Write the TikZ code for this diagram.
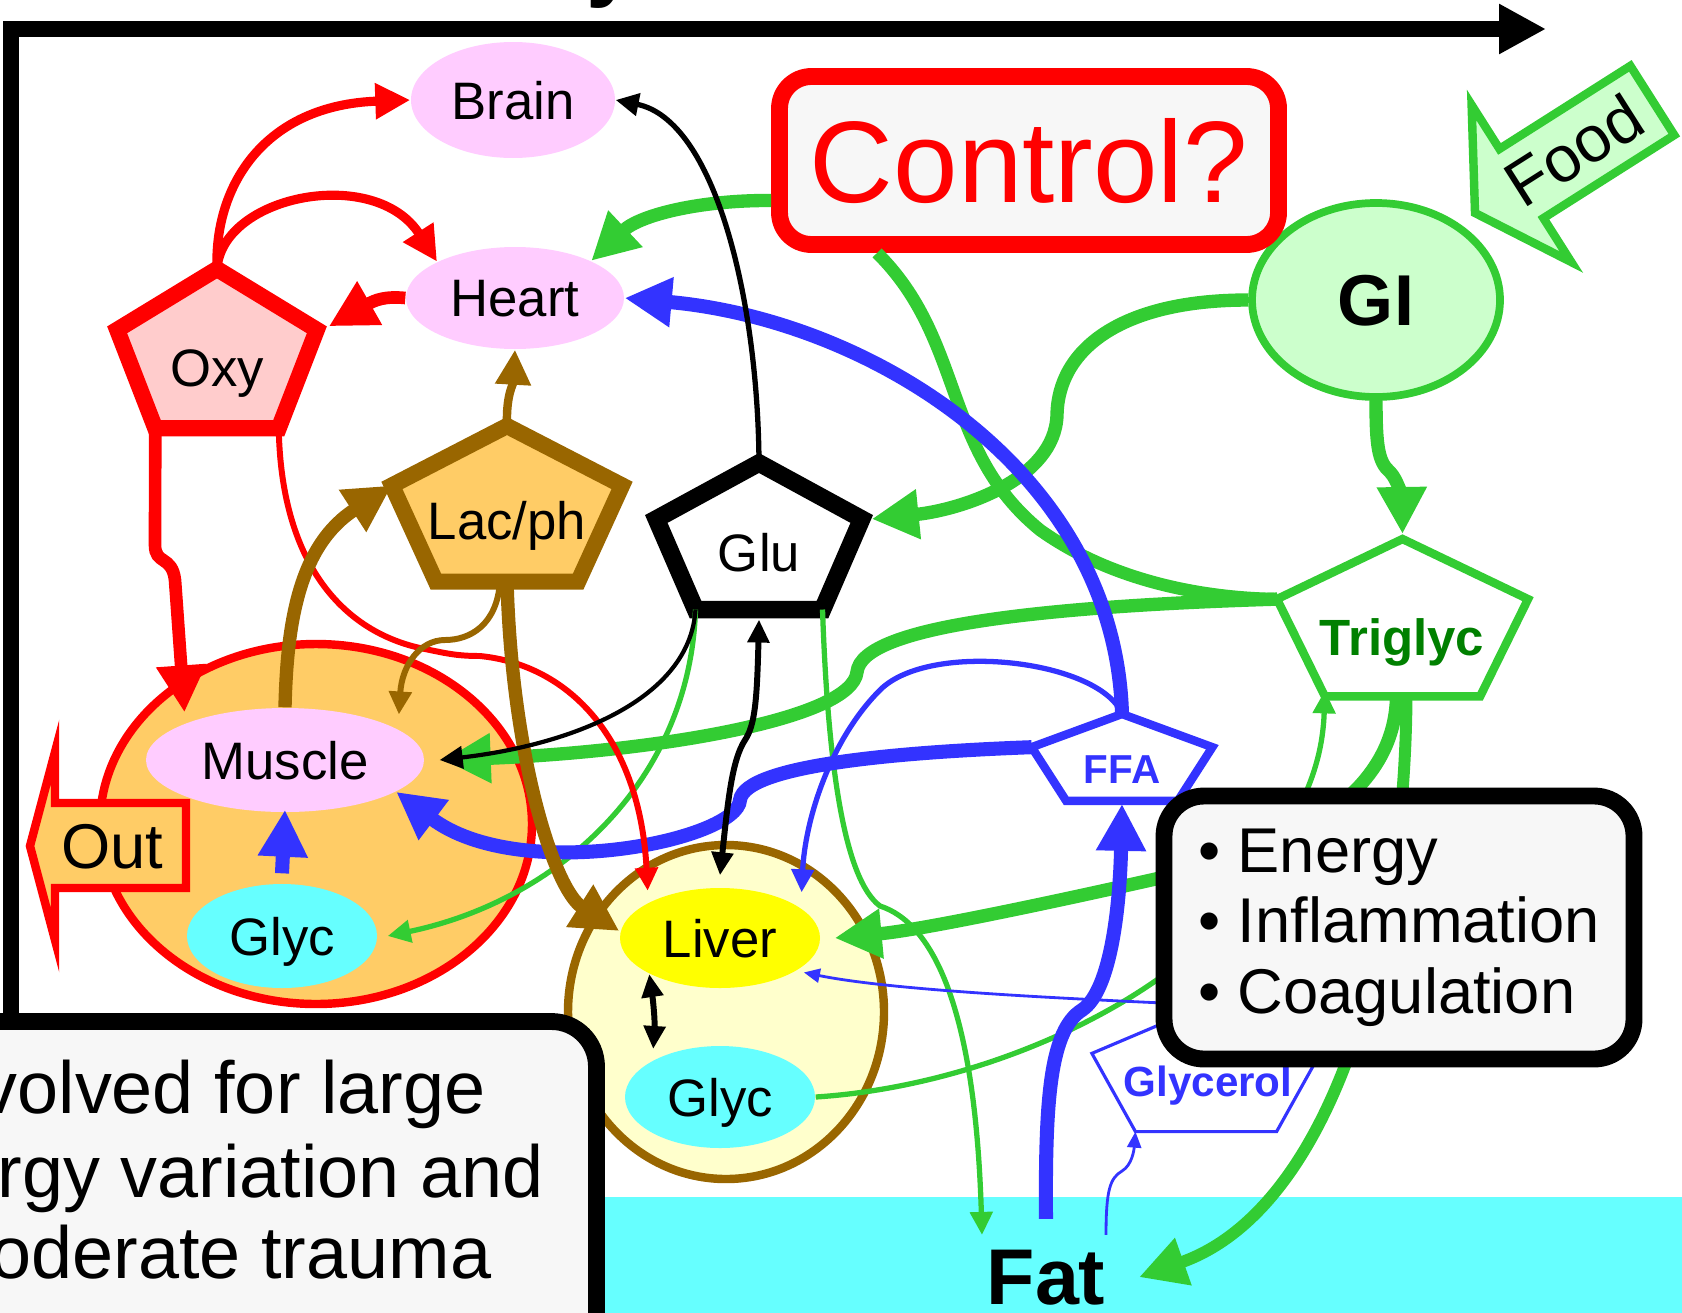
\documentclass[tikz,border=0pt]{standalone}
\usepackage{fontspec}
\setmainfont{Liberation Sans}
\usepackage{xcolor}
\usetikzlibrary{shapes.geometric, arrows.meta, calc}

\definecolor{oxyred}{HTML}{FF0000}
\definecolor{flowgreen}{HTML}{33CC33}
\definecolor{flowblue}{HTML}{3333FF}
\definecolor{lacbrown}{HTML}{996600}
\definecolor{organpink}{HTML}{FFCCFF}
\definecolor{oxypink}{HTML}{FFCCCC}
\definecolor{lacorange}{HTML}{FFCC66}
\definecolor{glycyan}{HTML}{66FFFF}
\definecolor{liverpale}{HTML}{FFFFCC}
\definecolor{liveryellow}{HTML}{FFFF00}
\definecolor{gigreen}{HTML}{CCFFCC}
\definecolor{boxgrey}{HTML}{F7F7F7}
\definecolor{trigreen}{HTML}{008000}

% pentagon: style, name, cx, cy, x-radius, y-radius (pixel units, y down)
\newcommand{\pentnode}[6]{%
  \draw[#1] (#3,{#4-#6}) coordinate (#2-n)
    -- ({#3-0.951*#5},{#4-0.309*#6}) coordinate (#2-w)
    -- ({#3-0.588*#5},{#4+0.809*#6}) coordinate (#2-sw)
    -- ({#3+0.588*#5},{#4+0.809*#6}) coordinate (#2-se)
    -- ({#3+0.951*#5},{#4-0.309*#6}) coordinate (#2-e)
    -- cycle;
  \coordinate (#2-s) at (#3,{#4+0.809*#6});}

\begin{document}
\begin{tikzpicture}[x=0.1mm, y=-0.1mm,
    organ/.style={ellipse, fill=organpink, inner sep=0pt, text depth=0pt, font=\fontsize{15}{18}\selectfont},
    glycpool/.style={organ, fill=glycyan},
    cellbody/.style={ellipse, line width=2.4pt, inner sep=0pt},
    pentlabel/.style={anchor=base, inner sep=0pt, font=\fontsize{15}{18}\selectfont},
    textbox/.style={rectangle, draw=black, line width=4.8pt, fill=boxgrey, rounded corners=4mm, inner sep=0pt},
    boxtext/.style={anchor=base west, inner sep=0pt, font=\fontsize{21}{24}\selectfont},
    bigarrow/.style={-{Triangle[length=4.7mm,width=4.7mm]}, line width=3.8pt},
    medarrow/.style={-{Triangle[length=3.5mm,width=3.4mm]}, line width=2.6pt},
    thinarrow/.style={-{Triangle[length=2.3mm,width=2.2mm]}, line width=1.5pt},
    thinboth/.style={{Triangle[length=2.3mm,width=2.1mm]}-{Triangle[length=2.3mm,width=2.1mm]}, line width=1.7pt},
    hairarrow/.style={-{Triangle[length=1.6mm,width=1.4mm]}, line width=0.8pt},
]
\useasboundingbox (0,0) rectangle (1682,1312);

% Fat layer and frame
\fill[glycyan] (0,1197) rectangle (1682,1330);
\node[anchor=base west, inner sep=0pt, font=\bfseries\fontsize{26}{30}\selectfont] (titley) at (586,-11) {y};
\draw[line width=4.8pt, -{Triangle[length=4.7mm,width=4.7mm]}] (11,1014) -- (11,29) -- (1546,29);

% Muscle and liver compartments
\node[cellbody, draw=oxyred, fill=lacorange, minimum width=43.2mm, minimum height=36mm] (muscleorg) at (316,824) {};
\node[cellbody, draw=lacbrown, fill=liverpale, minimum width=31.6mm, minimum height=33.4mm] (liverorg) at (726,1012) {};

% Organs
\node[organ, minimum width=20.4mm, minimum height=11.6mm] (brain) at (513,100) {Brain};
\node[organ, minimum width=21.8mm, minimum height=10.2mm] (heart) at (515,298) {Heart};
\node[organ, minimum width=27.8mm, minimum height=10.4mm] (muscle) at (285,760) {Muscle};
\node[glycpool, minimum width=19mm, minimum height=10.4mm] (mglyc) at (282,936) {Glyc};
\node[organ, fill=liveryellow, minimum width=20mm, minimum height=10mm] (liver) at (720,938) {Liver};
\node[glycpool, minimum width=19mm, minimum height=10.2mm] (lglyc) at (720,1097) {Glyc};
\node[ellipse, draw=flowgreen, line width=2.2pt, fill=gigreen, minimum width=24.8mm, minimum height=19.4mm, inner sep=0pt, text depth=0pt, font=\bfseries\fontsize{20.5}{24}\selectfont] (gi) at (1376,300) {GI};

% Control and Fat
\node[textbox, draw=oxyred, rounded corners=3.2mm, minimum width=49.9mm, minimum height=16.8mm, text=oxyred, text depth=0pt, font=\fontsize{33}{38}\selectfont] (control) at (1029,160.5) {Control?};
\node[anchor=base, inner sep=0pt, font=\bfseries\fontsize{22.5}{26}\selectfont] (fat) at (1046,1304) {Fat};

% Metabolite pools
\pentnode{draw=oxyred, fill=oxypink, line width=4.6pt}{oxy}{217}{357}{105}{88}
\pentnode{draw=lacbrown, fill=lacorange, line width=4.6pt}{lac}{507}{512}{121}{86}
\pentnode{draw=black, fill=white, line width=5pt}{glu}{759}{544}{108}{81}
\pentnode{draw=flowgreen, fill=white, line width=2.4pt}{trig}{1402.5}{626}{132}{87}
\pentnode{draw=flowblue, fill=white, line width=2.4pt}{ffa}{1122}{762}{95}{48}
\pentnode{draw=flowblue, fill=white, line width=0.9pt}{gly}{1206}{1075}{120}{70}
\node[pentlabel] (oxylabel) at (217,386) {Oxy};
\node[pentlabel] (laclabel) at (507,539) {Lac/ph};
\node[pentlabel] (glulabel) at (759,571) {Glu};
\node[pentlabel, text=trigreen, font=\bfseries\fontsize{14.5}{17}\selectfont] (triglabel) at (1402,655) {Triglyc};
\node[pentlabel, text=flowblue, font=\bfseries\fontsize{11.5}{14}\selectfont] (ffalabel) at (1122,783) {FFA};
\node[pentlabel, text=flowblue, font=\bfseries\fontsize{12}{14}\selectfont] (glylabel) at (1208,1096) {Glycerol};

% Green fluxes
\draw[bigarrow, flowgreen] ([yshift=-4mm]control.west) .. controls (700,200) and (640,215) .. (heart.26);
\draw[flowgreen, line width=3.6pt] ([xshift=10.6mm]control.south west) .. controls (965,340) and (942,450) .. (1040,530) .. controls (1110,580) and (1200,598) .. (trig-w);
\draw[bigarrow, flowgreen] (trig-w) .. controls (1050,606) and (862,625) .. (857,672) .. controls (852,720) and (650,752) .. ([xshift=1.9mm]muscle.east);
\draw[bigarrow, flowgreen] (gi.west) .. controls (1120,300) and (1058,350) .. (1057,415) .. controls (1055,480) and (960,510) .. ([xshift=1mm]glu-e);
\draw[bigarrow, flowgreen] (gi.south) .. controls (1376,445) and (1378,462) .. (1390,472) .. controls (1398,480) and (1402,500) .. ([yshift=0.5mm]trig-n);
\draw[bigarrow, flowgreen] ([xshift=-0.6mm]trig-s) .. controls (1395,790) and (1300,850) .. (1160,878) .. controls (1040,905) and (920,930) .. ([xshift=1.4mm]liver.east);
\draw[bigarrow, flowgreen, line width=3.4pt] ([xshift=0.4mm]trig-s) .. controls (1405,950) and (1330,1210) .. ([xshift=3.3mm]fat.east);
\draw[thinarrow, flowgreen] (lglyc.east) .. controls (1000,1085) and (1180,990) .. (1240,900) .. controls (1290,830) and (1322,780) .. ([yshift=0.6mm]trig-sw);
\draw[thinarrow, flowgreen] (glu-sw) .. controls (690,780) and (560,900) .. ([xshift=1mm]mglyc.east);
\draw[thinarrow, flowgreen] (glu-se) .. controls (828,770) and (845,880) .. (880,906) .. controls (930,922) and (975,1000) .. ([xshift=-6.4mm,yshift=1.4mm]fat.north);

% Blue fluxes
\draw[bigarrow, flowblue, line width=4pt] (ffa-n) .. controls (1115,470) and (870,320) .. (heart.east);
\draw[bigarrow, flowblue, line width=4pt] (ffa-w) .. controls (900,752) and (745,765) .. (740,800) .. controls (738,840) and (520,885) .. (muscle.344);
\draw[thinarrow, flowblue] (ffa-n) .. controls (1100,660) and (930,640) .. (880,690) .. controls (830,740) and (805,820) .. ([yshift=1.6mm]liver.20);
\draw[bigarrow, flowblue, line width=4pt] ([yshift=3mm]fat.north) .. controls (1045,1100) and (1050,1030) .. (1082,1010) .. controls (1112,990) and (1120,900) .. ([yshift=-0.3mm]ffa-s);
\draw[hairarrow, flowblue] (gly-n) .. controls (1100,1000) and (900,992) .. ([xshift=1mm]liver.335);
\draw[hairarrow, flowblue] ([yshift=1.4mm]fat.north east) .. controls (1106,1190) and (1110,1178) .. (1122,1171) .. controls (1132,1165) and (1134,1150) .. (gly-sw);
\draw[bigarrow, flowblue, line width=4pt] ([yshift=1mm]mglyc.north) -- ([yshift=0.3mm]muscle.south);

% Red fluxes
\draw[medarrow, oxyred] (oxy-n) .. controls (214,185) and (265,105) .. (brain.west);
\draw[medarrow, oxyred] (oxy-n) .. controls (222,195) and (375,165) .. (heart.155);
\draw[bigarrow, oxyred, line width=3.6pt] (heart.west) .. controls (385,296) and (375,300) .. ([xshift=1.2mm,yshift=0.35mm]oxy-e);
\draw[bigarrow, oxyred, line width=3.6pt] (oxy-sw) -- (155,545) .. controls (155,565) and (172,555) .. (175,580) -- ([yshift=1.1mm]muscle.160);
\draw[thinarrow, oxyred, line width=1.7pt] (oxy-se) .. controls (281,560) and (340,630) .. (420,648) .. controls (445,653) and (455,656) .. (480,656) .. controls (570,665) and (640,740) .. ([yshift=1.2mm]liver.154);

% Brown fluxes
\draw[medarrow, lacbrown, line width=2.4pt] (lac-n) .. controls (506,395) and (513,385) .. (heart.south);
\draw[bigarrow, lacbrown] (muscle.north) .. controls (287,620) and (300,545) .. (lac-w);
\draw[thinarrow, lacbrown, line width=1.7pt] ([xshift=-0.7mm]lac-s) .. controls (497,625) and (470,640) .. (445,640) .. controls (420,640) and (402,665) .. ([yshift=1.5mm]muscle.15);
\draw[bigarrow, lacbrown] (lac-s) .. controls (512,760) and (555,890) .. ([yshift=0.7mm]liver.west);

% Black fluxes
\draw[thinarrow, black] (glu-n) .. controls (758,300) and (715,120) .. (brain.east);
\draw[thinarrow, black, line width=1.2pt] (glu-sw) .. controls (690,700) and (570,745) .. ([xshift=1.5mm]muscle.east);
\draw[thinboth, black] ([yshift=-1mm]glu-s) .. controls (757,700) and (755,725) .. (745,740) .. controls (732,760) and (728,800) .. ([yshift=1.2mm]liver.north);
\draw[thinboth, black] (liver.207) .. controls (653,1000) and (655,1020) .. ([yshift=1.1mm]lglyc.151);

% Effects and trauma boxes
\node[textbox, minimum width=47mm, minimum height=26.3mm, align=left, font=\fontsize{18}{20}\selectfont] (effects) at (1399,927.5) {\textbullet{} Energy\\\textbullet{} Inflammation\\\textbullet{} Coagulation};
\node[textbox, rounded corners=4.5mm, minimum width=69.7mm, minimum height=37.9mm] (trauma) at (248,1211) {};
\node[boxtext] (trauma1) at (-20,1113) {volved for large};
\node[boxtext] (trauma2) at (-3,1197) {rgy variation and};
\node[boxtext] (trauma3) at (-10,1278) {oderate trauma};

% Out and Food arrows
\draw[line width=2.4pt, draw=oxyred, fill=lacorange] (30,846) -- (55,752) -- (55,803) -- (186,803) -- (186,888) -- (55,888) -- (55,940) -- cycle;
\node[anchor=base, inner sep=0pt, font=\fontsize{18}{21}\selectfont] (out) at (112,868) {Out};
\begin{scope}[shift={(1475,213)}, rotate=32.4]
  \draw[line width=2.4pt, draw=flowgreen, fill=gigreen] (0,0) -- (55,-93) -- (55,-41) -- (210,-41) -- (210,41) -- (55,41) -- (55,93) -- cycle;
\end{scope}
\node[rotate=32.4, font=\fontsize{18.5}{22}\selectfont] (food) at (1574,150) {Food};

\end{tikzpicture}
\end{document}
